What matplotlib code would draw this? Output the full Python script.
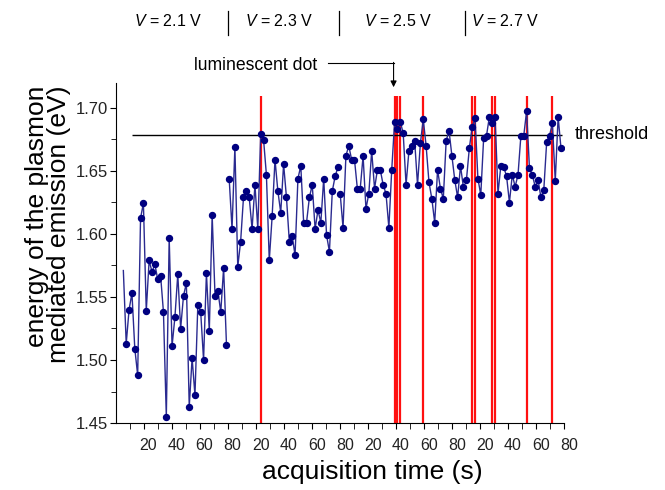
import numpy as np
import matplotlib
matplotlib.use('Agg')
import matplotlib.pyplot as plt
from matplotlib.transforms import ScaledTranslation, blended_transform_factory
from matplotlib.lines import Line2D

plt.rcParams['font.family'] = ['Liberation Sans', 'DejaVu Sans']
plt.rcParams['mathtext.fontset'] = 'custom'
plt.rcParams['mathtext.it'] = 'Liberation Sans:italic'
plt.rcParams['mathtext.rm'] = 'Liberation Sans'

# emission energy (eV) per acquisition, one list per bias voltage
seg_v21 = [1.571, 1.513, 1.540, 1.553, 1.509, 1.488, 1.6125, 1.6245, 1.539, 1.579,
           1.570, 1.576, 1.564, 1.567, 1.538, 1.455, 1.597, 1.511, 1.534, 1.568,
           1.525, 1.551, 1.561, 1.463, 1.5015, 1.472, 1.544, 1.538, 1.500, 1.569,
           1.523, 1.615, 1.551, 1.555, 1.538, 1.573, 1.512]
seg_v23 = [1.644, 1.604, 1.669, 1.574, 1.594, 1.629, 1.634, 1.629, 1.604, 1.639,
           1.604, 1.679, 1.675, 1.647, 1.579, 1.614, 1.659, 1.634, 1.617, 1.6555,
           1.629, 1.594, 1.5985, 1.583, 1.644, 1.654, 1.609, 1.609, 1.629, 1.639,
           1.604, 1.619, 1.609, 1.644, 1.599, 1.586, 1.634, 1.646, 1.653]
seg_v25 = [1.632, 1.605, 1.662, 1.670, 1.659, 1.659, 1.636, 1.636, 1.662, 1.620,
           1.632, 1.666, 1.636, 1.651, 1.651, 1.639, 1.632, 1.605, 1.651, 1.689,
           1.683, 1.689, 1.680, 1.639, 1.666, 1.670, 1.674, 1.639, 1.672, 1.691,
           1.670, 1.641, 1.628, 1.609, 1.651, 1.636, 1.628, 1.674, 1.682, 1.662,
           1.643, 1.629, 1.654, 1.6375]
seg_v27 = [1.643, 1.668, 1.685, 1.692, 1.644, 1.631, 1.676, 1.678, 1.693, 1.688,
           1.693, 1.632, 1.654, 1.653, 1.646, 1.625, 1.647, 1.6375, 1.647, 1.678,
           1.678, 1.6976, 1.652, 1.647, 1.6375, 1.643, 1.629, 1.635, 1.673, 1.678,
           1.688, 1.642, 1.693, 1.668]
segments = [seg_v21, seg_v23, seg_v25, seg_v27]
seg_start = [5.6, 81.1, 160.3, 250.4]   # s, first acquisition of each run
step = 2.044                            # s between acquisitions
# acquisitions flagged as luminescent dot (index within each run)
lum_idx = [[], [11], [19, 20, 21, 29], [2, 3, 9, 10, 21, 30]]
threshold = 1.6786

voltages = ['2.1', '2.3', '2.5', '2.7']
v_label_x = [37.4, 116.5, 201.9, 278.0]

fig = plt.figure(figsize=(6.65, 4.9), dpi=100)
ax = fig.add_axes([115.5 / 665, 1 - 423 / 490, 448.5 / 665, 340.2 / 490])

times = []
for vals, t0 in zip(segments, seg_start):
    times.append(t0 + step * np.arange(len(vals)))

# red markers for luminescent dot events
for t, idx in zip(times, lum_idx):
    for i in idx:
        ax.vlines(t[i], 1.45, 1.7095, color='#ff1010', lw=1.6, zorder=1)

ax.hlines(threshold, 11.7, 318.7, color='black', lw=1.0, zorder=2)
ax.text(327.5, threshold, 'threshold', fontsize=13, va='center', ha='left',
        clip_on=False)

for k, (t, vals) in enumerate(zip(times, segments)):
    me = list(range(1, len(vals))) if k == 0 else None
    ax.plot(t, vals, color='#2a2a90', lw=1.0, marker='o', ms=4.3,
            mfc='#000080', mec='#000080', markevery=me, zorder=3)

ax.set_xlim(0, 320)
ax.set_ylim(1.45, 1.72)
ax.spines['top'].set_visible(False)
ax.spines['right'].set_visible(False)

xt = np.arange(20, 321, 20)
ax.set_xticks(xt)
ax.set_xticklabels([str((int(v) - 1) % 80 + 1) for v in xt])
ax.set_xticks(np.arange(10, 320, 20), minor=True)
ax.set_yticks(np.arange(1.45, 1.701, 0.05))
ax.set_yticklabels(['%.2f' % v for v in np.arange(1.45, 1.701, 0.05)])
ax.set_yticks(np.arange(1.475, 1.72, 0.05), minor=True)
ax.tick_params(axis='both', which='both', direction='out', labelcolor='#222222')
ax.tick_params(axis='x', which='both', length=4.5, labelsize=11.5, pad=6)
ax.tick_params(axis='y', which='major', length=4.5, labelsize=12, pad=1)
ax.tick_params(axis='y', which='minor', length=3.5)
for lab in ax.get_xticklabels():
    lab.set_transform(lab.get_transform() + ScaledTranslation(5 / 100, 0, fig.dpi_scale_trans))

ax.set_xlabel('acquisition time (s)', fontsize=19)
ax.xaxis.set_label_coords(0.572, -0.11)
ax.set_ylabel('energy of the plasmon\nmediated emission (eV)', fontsize=19,
              linespacing=0.9, multialignment='right')
ax.yaxis.set_label_coords(-0.1, 0.585)

# luminescent dot annotation
ax.text(56, 1.734, 'luminescent dot', fontsize=12.7, va='center', ha='left',
        clip_on=False)
ax.plot([151.4, 198.4], [1.7357, 1.7357], color='black', lw=0.8, clip_on=False)
ax.annotate('', xy=(198.4, 1.7165), xytext=(198.4, 1.7362),
            arrowprops=dict(arrowstyle='-|>', color='black', lw=0.8,
                            mutation_scale=9, shrinkA=0, shrinkB=0),
            annotation_clip=False)

# voltage labels above the plot
trans = blended_transform_factory(ax.transData, fig.transFigure)
for v, x in zip(voltages, v_label_x):
    fig.text(x, 1 - 21 / 490, r'$V$ = %s V' % v, transform=trans, fontsize=11.5,
             ha='center', va='center')
for k in range(1, len(times)):
    xd = 0.5 * (times[k - 1][-1] + times[k][0])
    fig.add_artist(Line2D([xd, xd], [1 - 35 / 490, 1 - 11 / 490], transform=trans,
                          color='black', lw=0.9))

fig.savefig('out.png', dpi=100)
